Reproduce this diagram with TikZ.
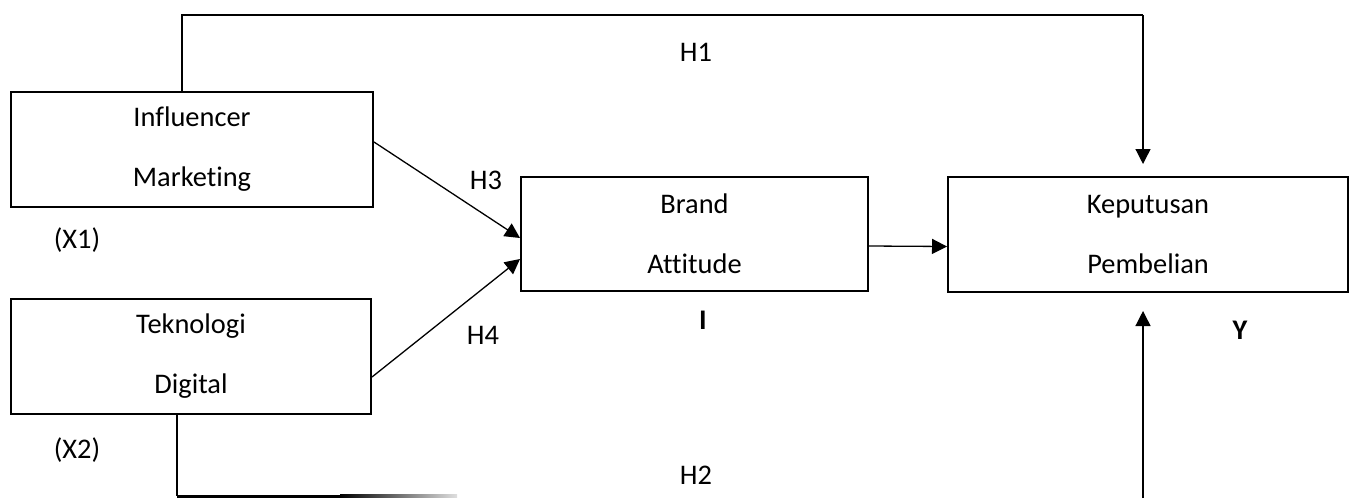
\documentclass[tikz,border=0pt]{standalone}
\usepackage{fontspec}
\setmainfont{Carlito}[Ligatures=NoCommon]
\usetikzlibrary{arrows.meta}
\tikzset{
  box/.style={draw=black, line width=1pt, inner sep=0pt, align=center,
    font=\fontsize{14.2}{30}\selectfont},
  conn/.style={draw=black, line width=0.65pt},
  thick conn/.style={draw=black, line width=1pt},
  tip/.style={-{Triangle[length=7.5pt,width=7.5pt]}},
  lbl/.style={inner sep=0pt, font=\fontsize{14.2}{16}\selectfont},
  blbl/.style={inner sep=0pt, font=\fontsize{14.2}{16}\selectfont\bfseries}
}
\begin{document}
\begin{tikzpicture}[x=0.5pt,y=-0.5pt]
\useasboundingbox (0,0) rectangle (1352,498);
% boxes
\node[box, minimum width=181pt, minimum height=57.5pt] (inf) at (192,149.5) {Influencer\\Marketing};
\node[box, minimum width=180pt, minimum height=57.5pt] (dig) at (191,356.5) {Teknologi\\Digital};
\node[box, minimum width=173.5pt, minimum height=57pt] (brand) at (694.5,234) {Brand\\Attitude};
\node[box, minimum width=200pt, minimum height=57.5pt] (kep) at (1148,234.5) {Keputusan\\Pembelian};
% labels
\node[lbl] (x1) at (77,240) {(X1)};
\node[lbl] (x2) at (77,450) {(X2)};
\node[lbl] (h1) at (696,52) {H1};
\node[lbl] (h3) at (486,180) {H3};
\node[lbl] (h4) at (483,335) {H4};
\node[lbl] (h2) at (696,475) {H2};
\node[blbl] (li) at (703,320) {I};
\node[blbl] (ly) at (1240,330) {Y};
% coordinates
\coordinate (t1) at (182,15);
\coordinate (t2) at (1143,15);
\coordinate (b1) at (177,496);
\coordinate (b2) at (1143,498);
% H1 path
\draw[thick conn] (inf.north -| t1) -- (t1) -- (t2);
\draw[conn, tip, shorten >=6pt] (t2) -- (kep.north -| t2);
% H3, H4
\draw[conn, tip] ([yshift=3.75pt]inf.east) -- ([yshift=-2pt]brand.west);
\draw[conn, tip] ([yshift=-10.25pt]dig.east) -- ([yshift=-12.5pt]brand.west);
% Brand -> Keputusan
\draw[conn, tip] ([yshift=-6pt]brand.east) -- ([yshift=-6pt]kep.west);
% H2 path
\draw[thick conn] (dig.south -| b1) -- (b1);
\fill[black] (177,494.8) rectangle (340,497.6);
\shade[left color=black, right color=gray!25] (340,494.8) rectangle (457,497.6);
\draw[conn, tip, shorten >=9pt] (b2) -- (kep.south -| b2);
\end{tikzpicture}
\end{document}
